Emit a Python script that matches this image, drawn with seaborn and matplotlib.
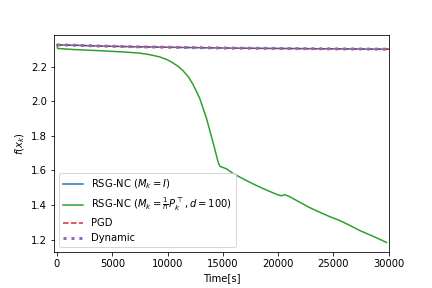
import matplotlib
matplotlib.use("Agg")
import matplotlib.pyplot as plt
import seaborn as sns

# flat series (RSG-NC M=I, PGD, Dynamic)
t_flat = [0, 2000, 4000, 8000, 11400, 16000, 20400, 25000, 30000]
rsg_identity = [2.327, 2.324, 2.320, 2.315, 2.312, 2.308, 2.306, 2.304, 2.302]
pgd = [2.327, 2.324, 2.320, 2.315, 2.312, 2.308, 2.306, 2.304, 2.302]
dynamic = [2.327, 2.324, 2.320, 2.315, 2.312, 2.308, 2.306, 2.304, 2.302]

# RSG-NC with random projection
t_proj = [0, 60, 1500, 3900, 6000, 7500, 8400, 9300, 10000, 10500, 11000, 11400,
          11900, 12300, 12900, 13500, 14100, 14570, 14720, 15330, 15930, 16800,
          17730, 18600, 19540, 20000, 20300, 20600, 21000, 21950, 22800, 23760,
          24600, 25560, 26500, 27370, 28500, 29630, 29800]
rsg_proj = [2.327, 2.306, 2.300, 2.293, 2.286, 2.279, 2.270, 2.257, 2.240, 2.222,
            2.200, 2.177, 2.140, 2.098, 2.018, 1.905, 1.765, 1.648, 1.624, 1.609,
            1.582, 1.552, 1.522, 1.496, 1.470, 1.458, 1.453, 1.460, 1.449, 1.416,
            1.386, 1.358, 1.334, 1.310, 1.281, 1.252, 1.221, 1.188, 1.183]

fig, ax = plt.subplots(figsize=(6, 4), dpi=72)
fig.subplots_adjust(bottom=0.124, top=0.879)

sns.lineplot(x=t_flat, y=rsg_identity, color="#1f77b4", linewidth=1.5,
             label=r"RSG-NC ($M_k = I$)", ax=ax)
sns.lineplot(x=t_proj, y=rsg_proj, color="#2ca02c", linewidth=1.5,
             label=r"RSG-NC ($M_k = \frac{1}{n}P_k^\top, d = 100$)", ax=ax)
sns.lineplot(x=t_flat, y=pgd, color="#d62728", linewidth=1.5, linestyle="--",
             label="PGD", ax=ax)
sns.lineplot(x=t_flat, y=dynamic, color="#9467bd", linewidth=3, linestyle=":",
             label="Dynamic", ax=ax)

ax.set_xlim(-270, 30000)
ax.set_ylim(1.126, 2.385)
ax.set_xlabel("Time[s]")
ax.set_ylabel(r"$f(x_k)$")
ax.legend(loc="lower left")

fig.savefig("out.png", dpi=72)
